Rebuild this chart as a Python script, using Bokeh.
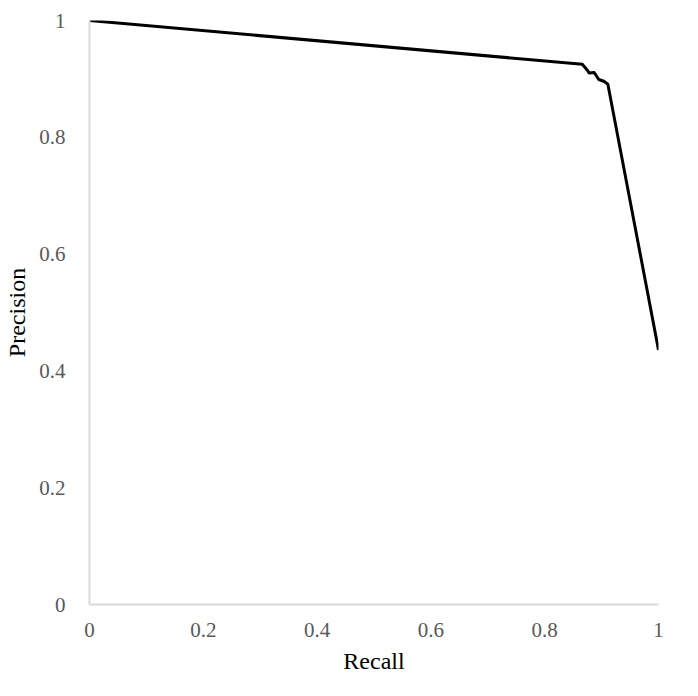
from bokeh.plotting import figure
from bokeh.models import Range1d, FixedTicker
from bokeh.embed import file_html
from bokeh.resources import INLINE

recall = [0.0, 0.866, 0.875, 0.878, 0.887, 0.895, 0.904, 0.911, 1.0]
precision = [1.0, 0.925, 0.915, 0.910, 0.911, 0.899, 0.896, 0.891, 0.436]
ticks = [0, 0.2, 0.4, 0.6, 0.8, 1.0]
tick_labels = ["0", "0.2", "0.4", "0.6", "0.8", "1"]

p = figure(width=682, height=680, output_backend="svg", toolbar_location=None,
           x_range=Range1d(0, 1), y_range=Range1d(0, 1),
           min_border_left=89, min_border_right=24, min_border_top=20, min_border_bottom=76)
p.outline_line_color = None
p.xgrid.visible = False
p.ygrid.visible = False

p.line(recall, precision, line_color="black", line_width=3, line_join="round")

overrides = {t: l for t, l in zip(ticks, tick_labels)}
for ax in (p.xaxis[0], p.yaxis[0]):
    ax.ticker = FixedTicker(ticks=ticks)
    ax.major_label_overrides = overrides
    ax.axis_line_color = "#d9d9d9"
    ax.axis_line_width = 2
    ax.major_tick_line_color = None
    ax.minor_tick_line_color = None
    ax.major_label_text_font = "Liberation Serif"
    ax.major_label_text_font_size = "21px"
    ax.major_label_text_color = "#595959"
    ax.axis_label_text_font = "Liberation Serif"
    ax.axis_label_text_font_size = "24px"
    ax.axis_label_text_font_style = "normal"
    ax.axis_label_text_color = "black"

p.xaxis[0].axis_label = "Recall"
p.yaxis[0].axis_label = "Precision"
p.xaxis[0].major_label_standoff = 12
p.yaxis[0].major_label_standoff = 18
p.xaxis[0].axis_label_standoff = 8
p.yaxis[0].axis_label_standoff = 6

open("out.html", "w").write(file_html(p, INLINE))
